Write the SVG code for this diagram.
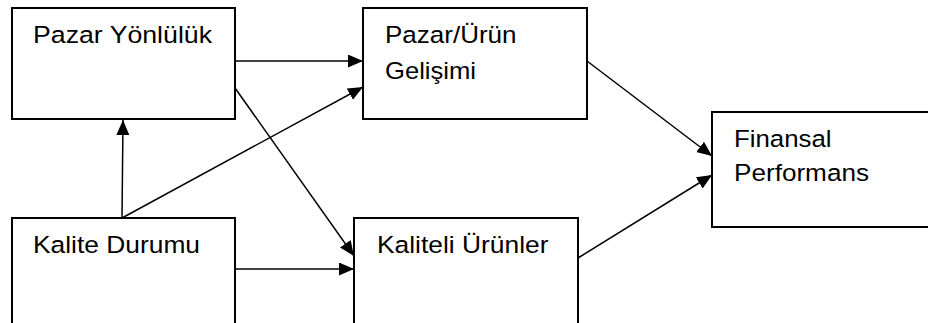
<svg xmlns="http://www.w3.org/2000/svg" width="928" height="323" viewBox="0 0 928 323">
  <style>
    .box { fill: #ffffff; stroke: #000000; stroke-width: 2; }
    .lbl { font-family: "Liberation Sans", Arial, sans-serif; font-size: 24.5px; fill: #000000; }
    .edge { fill: none; stroke: #000000; stroke-width: 1.5; marker-end: url(#head); }
  </style>
  <defs>
    <marker id="head" markerUnits="userSpaceOnUse" markerWidth="16" markerHeight="14" refX="15" refY="6.5" orient="auto">
      <path d="M0,0 L15,6.5 L0,13 z" fill="#000000"/>
    </marker>
  </defs>
  <rect width="928" height="323" fill="#ffffff"/>

  <g id="pazar-yonluluk">
    <rect class="box" x="12" y="8" width="223" height="111"/>
    <text class="lbl" x="33" y="42.5" textLength="179" lengthAdjust="spacingAndGlyphs">Pazar Yönlülük</text>
  </g>

  <g id="pazar-urun-gelisimi">
    <rect class="box" x="363" y="8" width="224" height="111"/>
    <text class="lbl" x="385" y="42.5" textLength="131.5" lengthAdjust="spacingAndGlyphs">Pazar/Ürün</text>
    <text class="lbl" x="385" y="78.5" textLength="91" lengthAdjust="spacingAndGlyphs">Gelişimi</text>
  </g>

  <g id="finansal-performans">
    <rect class="box" x="712" y="112" width="230" height="115"/>
    <text class="lbl" x="734" y="146.5" textLength="97.5" lengthAdjust="spacingAndGlyphs">Finansal</text>
    <text class="lbl" x="734" y="180.5" textLength="135" lengthAdjust="spacingAndGlyphs">Performans</text>
  </g>

  <g id="kalite-durumu">
    <rect class="box" x="12" y="218" width="223" height="120"/>
    <text class="lbl" x="33" y="253" textLength="167" lengthAdjust="spacingAndGlyphs">Kalite Durumu</text>
  </g>

  <g id="kaliteli-urunler">
    <rect class="box" x="354" y="218" width="224" height="120"/>
    <text class="lbl" x="377" y="253" textLength="171.5" lengthAdjust="spacingAndGlyphs">Kaliteli Ürünler</text>
  </g>

  <g id="connectors">
    <line class="edge" x1="235" y1="61" x2="363" y2="61"/>
    <line class="edge" x1="235" y1="88" x2="354" y2="256"/>
    <line class="edge" x1="122" y1="218" x2="123" y2="120"/>
    <line class="edge" x1="122" y1="218" x2="363" y2="87"/>
    <line class="edge" x1="235" y1="269" x2="354" y2="269"/>
    <line class="edge" x1="587" y1="61" x2="712" y2="156"/>
    <line class="edge" x1="578" y1="258" x2="712" y2="175"/>
  </g>
</svg>
